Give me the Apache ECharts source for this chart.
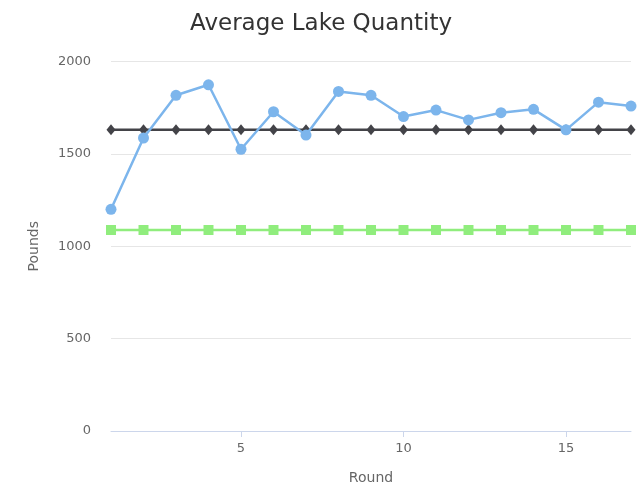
<!DOCTYPE html>
<html><head><meta charset="utf-8">
<script src="https://cdn.jsdelivr.net/npm/echarts@6/dist/echarts.min.js"></script>
<style>html,body{margin:0;padding:0;background:#fff}#c{width:642px;height:490px}</style>
</head><body><div id="c"></div>
<script>
const rounds = ['1','2','3','4','5','6','7','8','9','10','11','12','13','14','15','16','17'];
const lakeQuantity = [1200,1586,1817,1874,1525,1728,1602,1838,1817,1702,1737,1684,1723,1741,1630,1780,1759];
const blackLevel = [1630,1630,1630,1630,1630,1630,1630,1630,1630,1630,1630,1630,1630,1630,1630,1630,1630];
const greenLevel = [1088,1088,1088,1088,1088,1088,1088,1088,1088,1088,1088,1088,1088,1088,1088,1088,1088];
const yTicks = [0,500,1000,1500,2000];
const xLabelRounds = ['5','10','15'];

const chart = echarts.init(document.getElementById('c'));
const font = 'DejaVu Sans';
chart.setOption({
  animation:false,
  title:{text:'Average Lake Quantity',left:'center',top:8,textStyle:{fontFamily:font,fontSize:23,fontWeight:'normal',color:'#333'}},
  grid:{left:111,right:11,top:61.5,bottom:54},
  xAxis:{type:'category',data:rounds,boundaryGap:false,name:'Round',nameLocation:'middle',nameGap:40,
    nameTextStyle:{fontFamily:font,fontSize:14,color:'#666'},
    axisLine:{lineStyle:{color:'#ccd6eb',width:1}},
    axisTick:{show:true,length:6,lineStyle:{color:'#ccd6eb'},interval:(i,v)=>xLabelRounds.includes(v)},
    axisLabel:{interval:(i,v)=>xLabelRounds.includes(v),fontFamily:font,fontSize:13,color:'#666',margin:11},
    splitLine:{show:false}},
  yAxis:{type:'value',min:yTicks[0],max:yTicks[yTicks.length-1],interval:500,name:'Pounds',nameLocation:'middle',nameGap:70,
    nameTextStyle:{fontFamily:font,fontSize:14,color:'#666'},
    axisLine:{show:false},axisTick:{show:false},
    axisLabel:{fontFamily:font,fontSize:13,color:'#666',margin:20,formatter:v=>String(v)},
    splitLine:{lineStyle:{color:'#e6e6e6',width:1}}},
  series:[
    {type:'line',data:greenLevel,symbol:'rect',symbolSize:10,itemStyle:{color:'#90ed7d'},lineStyle:{color:'#90ed7d',width:2.5},z:2},
    {type:'line',data:blackLevel,symbol:'diamond',symbolSize:[9,11],itemStyle:{color:'#434348'},lineStyle:{color:'#434348',width:2.5},z:3},
    {type:'line',data:lakeQuantity,symbol:'circle',symbolSize:11,itemStyle:{color:'#7cb5ec'},lineStyle:{color:'#7cb5ec',width:2.5},z:4}
  ]
});
</script></body></html>
